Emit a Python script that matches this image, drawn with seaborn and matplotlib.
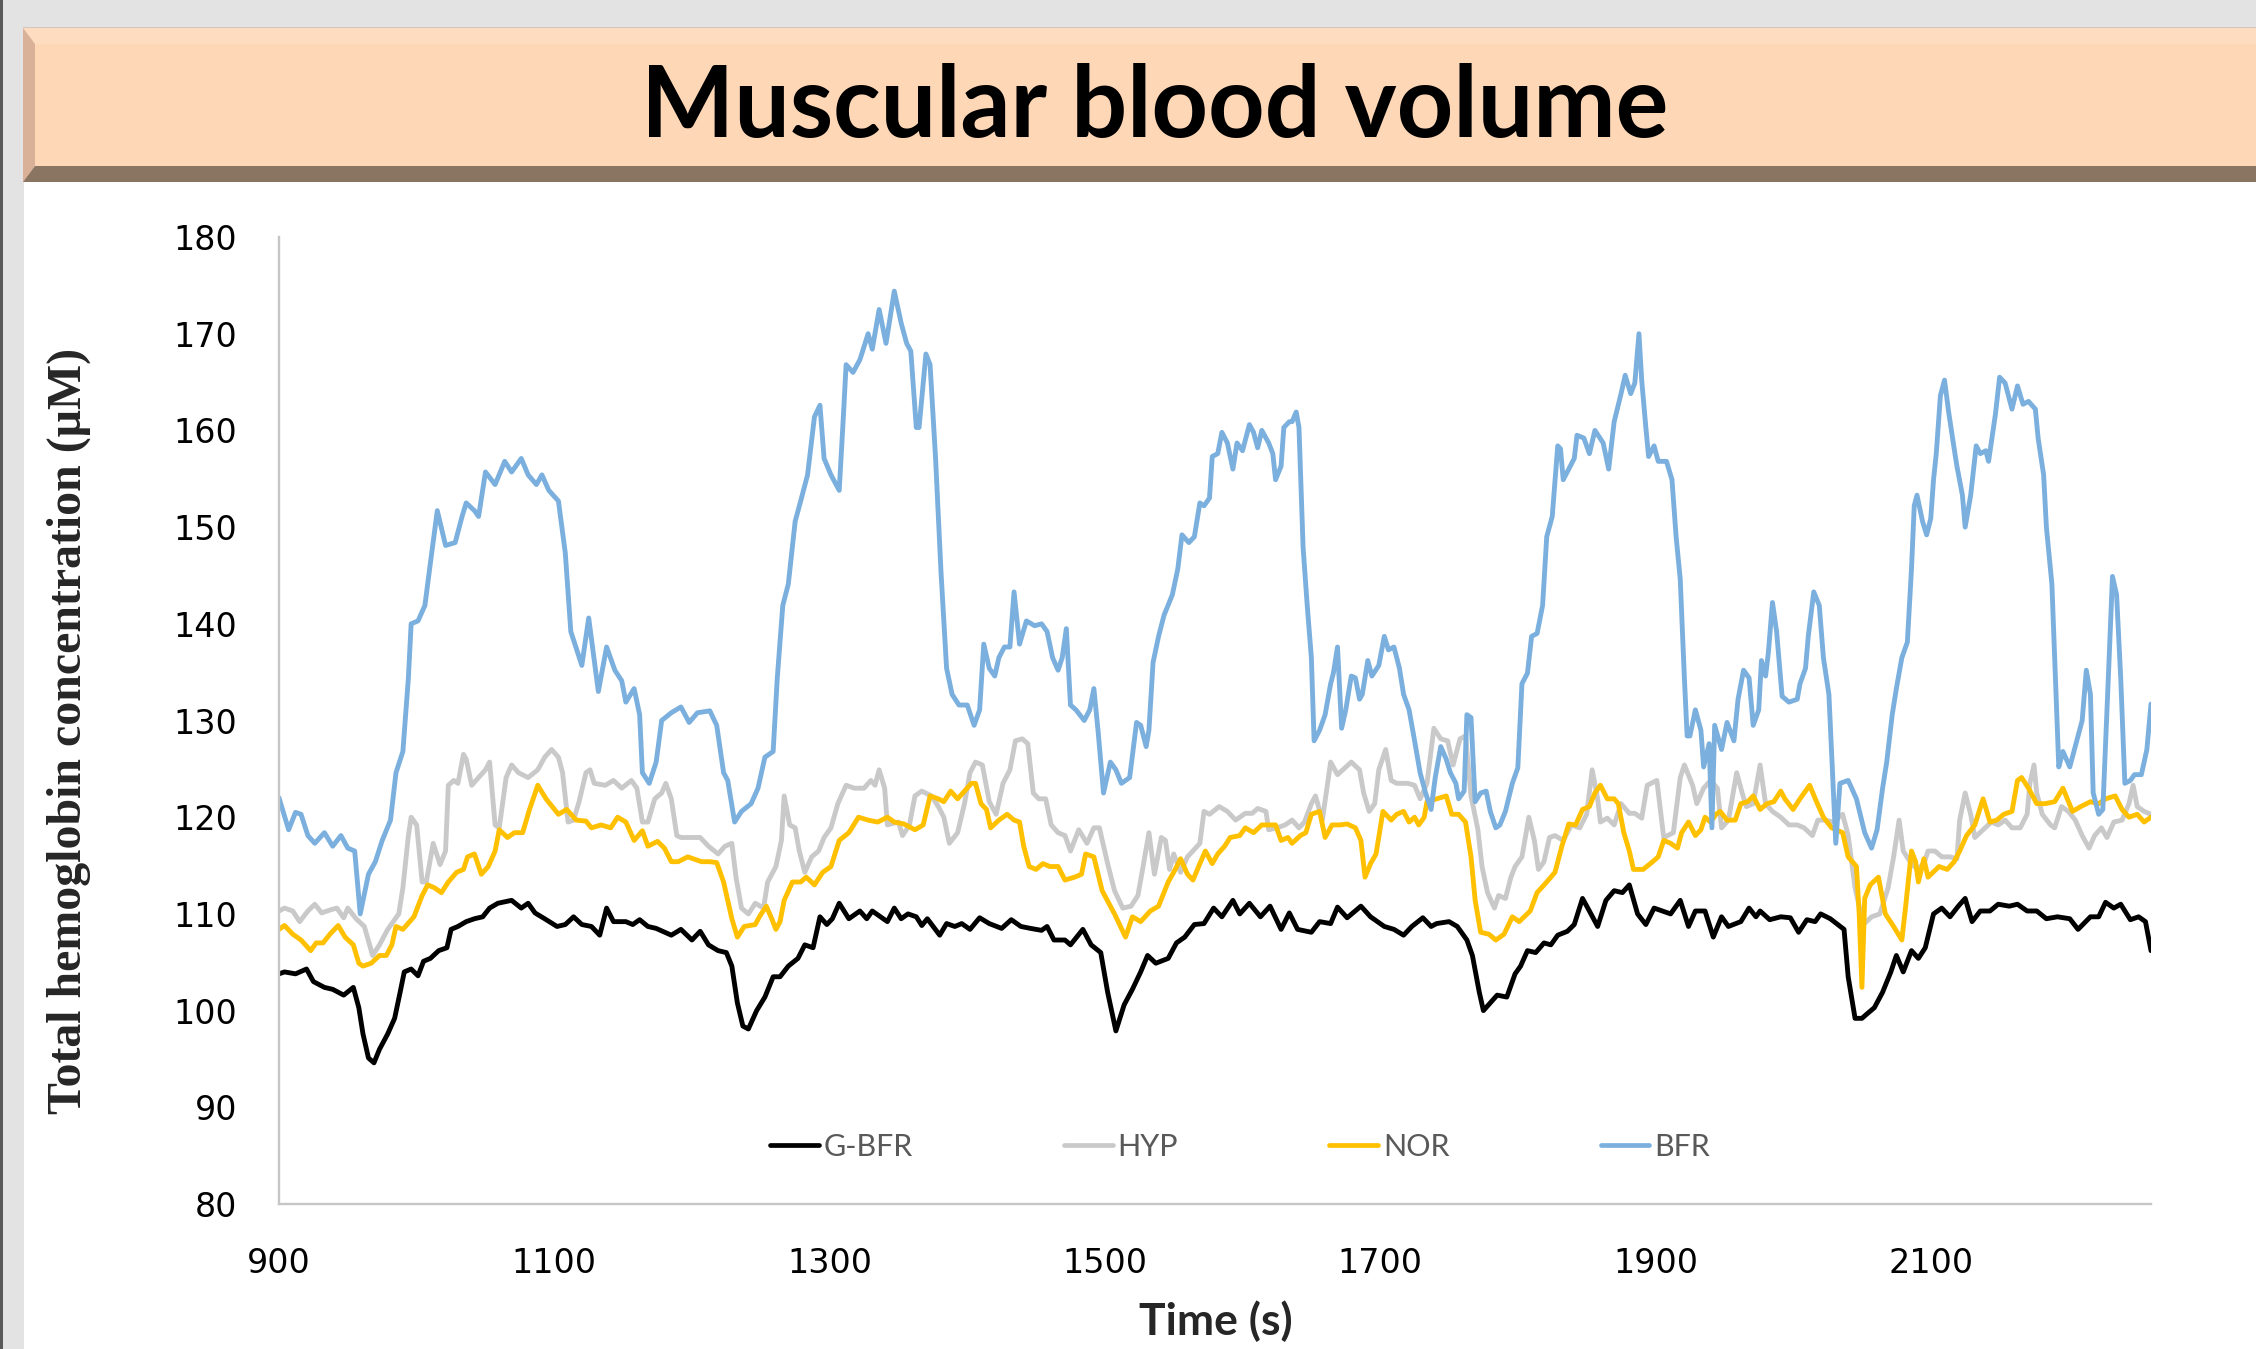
import pandas as pd
import seaborn as sns
import matplotlib.pyplot as plt
from matplotlib.patches import Polygon
from matplotlib.lines import Line2D

W, H = 2256, 1349

series_names = ['G-BFR', 'HYP', 'NOR', 'BFR']
palette = {'G-BFR': '#000000', 'HYP': '#c9c9c9', 'NOR': '#ffc000', 'BFR': '#7aafde'}

gbfr_t = [900, 904, 912, 920, 925, 933, 939, 947, 954, 958, 961, 965, 969, 973, 979, 984, 988, 991, 996, 1001,
          1005, 1010, 1016, 1022, 1025, 1030, 1036, 1042, 1048, 1053, 1059, 1069, 1076, 1081, 1086, 1093, 1102, 1108,
          1114, 1120, 1127, 1133, 1138, 1143, 1152, 1157, 1162, 1168, 1174, 1185, 1192, 1200, 1206, 1212, 1219, 1225,
          1229, 1233, 1237, 1241, 1247, 1253, 1259, 1264, 1270, 1277, 1282, 1288, 1293, 1298, 1302, 1307, 1314, 1322,
          1327, 1331, 1342, 1347, 1352, 1357, 1363, 1367, 1371, 1380, 1385, 1391, 1396, 1402, 1409, 1416, 1425, 1432,
          1439, 1446, 1454, 1458, 1463, 1471, 1475, 1484, 1490, 1497, 1502, 1508, 1514, 1520, 1526, 1531, 1537, 1546,
          1552, 1558, 1565, 1572, 1579, 1585, 1593, 1598, 1605, 1613, 1620, 1628, 1634, 1640, 1650, 1656, 1664, 1669,
          1676, 1686, 1693, 1703, 1710, 1717, 1723, 1731, 1737, 1741, 1750, 1756, 1763, 1767, 1772, 1775, 1785, 1792,
          1798, 1802, 1807, 1813, 1819, 1824, 1829, 1836, 1841, 1847, 1852, 1858, 1864, 1870, 1876, 1881, 1887, 1893,
          1899, 1905, 1911, 1918, 1924, 1929, 1936, 1942, 1948, 1953, 1962, 1968, 1973, 1976, 1983, 1991, 1998, 2004,
          2010, 2016, 2020, 2027, 2037, 2040, 2045, 2050, 2054, 2059, 2065, 2071, 2075, 2080, 2086, 2091, 2096, 2102,
          2108, 2114, 2120, 2125, 2130, 2136, 2143, 2149, 2157, 2163, 2170, 2177, 2184, 2192, 2201, 2207, 2216, 2222,
          2227, 2233, 2238, 2245, 2251, 2256, 2260]
gbfr_v = [103.8, 104.0, 103.8, 104.3, 103.0, 102.4, 102.2, 101.6, 102.4, 100.3, 97.6, 95.1, 94.6, 96.0, 97.6, 99.2,
          101.9, 104.0, 104.3, 103.6, 105.1, 105.4, 106.2, 106.5, 108.4, 108.7, 109.2, 109.5, 109.7, 110.6, 111.1,
          111.4, 110.6, 111.1, 110.1, 109.5, 108.7, 108.9, 109.7, 108.9, 108.7, 107.8, 110.6, 109.2, 109.2, 108.9,
          109.4, 108.7, 108.5, 107.8, 108.4, 107.3, 108.2, 106.8, 106.2, 106.0, 104.6, 100.8, 98.4, 98.1, 100.0, 101.4,
          103.5, 103.5, 104.6, 105.4, 106.8, 106.5, 109.7, 108.9, 109.5, 111.1, 109.5, 110.3, 109.5, 110.3, 109.2,
          110.6, 109.5, 110.0, 109.7, 108.8, 109.5, 107.8, 109.0, 108.7, 109.0, 108.4, 109.6, 109.0, 108.5, 109.4,
          108.7, 108.5, 108.3, 108.7, 107.3, 107.3, 106.8, 108.4, 106.8, 106.0, 101.9, 97.9, 100.6, 102.2, 104.0,
          105.7, 104.9, 105.4, 107.0, 107.6, 108.9, 109.0, 110.6, 109.7, 111.4, 110.0, 111.1, 109.7, 110.8, 108.4,
          110.1, 108.4, 108.1, 109.2, 109.0, 110.7, 109.6, 110.8, 109.7, 108.7, 108.4, 107.8, 108.7, 109.6, 108.7,
          109.0, 109.2, 108.7, 107.3, 105.7, 101.9, 100.0, 101.6, 101.4, 103.8, 104.6, 106.2, 106.0, 107.0, 106.8,
          107.8, 108.2, 108.9, 111.6, 110.3, 108.7, 111.4, 112.4, 112.2, 113.0, 110.0, 108.9, 110.6, 110.3, 110.0,
          111.4, 108.7, 110.3, 110.3, 107.6, 109.7, 108.7, 109.2, 110.6, 109.7, 110.3, 109.4, 109.7, 109.6, 108.1,
          109.4, 109.2, 110.0, 109.5, 108.4, 103.5, 99.2, 99.2, 99.7, 100.3, 101.9, 104.0, 105.7, 104.0, 106.2, 105.4,
          106.5, 110.0, 110.6, 109.7, 110.8, 111.6, 109.2, 110.3, 110.3, 111.0, 110.8, 111.0, 110.3, 110.3, 109.5,
          109.7, 109.5, 108.4, 109.7, 109.7, 111.2, 110.6, 111.0, 109.4, 109.7, 109.2, 106.2]

hyp_t = [900, 904, 910, 915, 921, 926, 931, 937, 942, 947, 950, 956, 962, 968, 973, 979, 987, 990, 994, 996, 1000,
         1004, 1007, 1012, 1017, 1021, 1023, 1027, 1030, 1034, 1036, 1040, 1045, 1050, 1053, 1057, 1060, 1065, 1069,
         1074, 1081, 1088, 1093, 1098, 1103, 1106, 1110, 1114, 1118, 1123, 1126, 1129, 1137, 1143, 1149, 1156, 1160,
         1164, 1168, 1173, 1178, 1181, 1185, 1189, 1192, 1200, 1206, 1212, 1219, 1224, 1229, 1232, 1236, 1241, 1246,
         1252, 1255, 1261, 1265, 1267, 1271, 1275, 1278, 1282, 1287, 1292, 1296, 1301, 1306, 1312, 1318, 1325, 1330,
         1333, 1336, 1340, 1342, 1350, 1353, 1358, 1362, 1367, 1374, 1379, 1383, 1387, 1393, 1398, 1402, 1406, 1411,
         1416, 1421, 1426, 1431, 1435, 1440, 1444, 1448, 1452, 1457, 1461, 1466, 1471, 1475, 1481, 1487, 1492, 1496,
         1502, 1507, 1513, 1519, 1524, 1527, 1532, 1536, 1541, 1544, 1547, 1550, 1555, 1560, 1569, 1572, 1576, 1583,
         1589, 1595, 1602, 1607, 1611, 1617, 1619, 1625, 1631, 1636, 1641, 1645, 1650, 1653, 1658, 1664, 1669, 1679,
         1685, 1688, 1692, 1696, 1699, 1704, 1708, 1712, 1720, 1725, 1729, 1734, 1739, 1744, 1749, 1753, 1758, 1762,
         1766, 1771, 1774, 1778, 1783, 1786, 1791, 1795, 1798, 1803, 1808, 1812, 1815, 1819, 1823, 1827, 1833, 1839,
         1845, 1850, 1854, 1858, 1860, 1865, 1870, 1875, 1881, 1885, 1890, 1894, 1901, 1906, 1913, 1918, 1921, 1927,
         1930, 1935, 1940, 1945, 1948, 1953, 1959, 1963, 1966, 1971, 1976, 1980, 1985, 1991, 1997, 2003, 2008, 2014,
         2018, 2023, 2029, 2036, 2040, 2045, 2051, 2057, 2063, 2069, 2073, 2077, 2080, 2085, 2090, 2095, 2098, 2103,
         2108, 2114, 2119, 2121, 2125, 2129, 2132, 2138, 2144, 2149, 2154, 2159, 2165, 2170, 2172, 2175, 2177, 2181,
         2187, 2190, 2195, 2200, 2205, 2210, 2215, 2219, 2224, 2228, 2233, 2239, 2244, 2247, 2250, 2255, 2260]
hyp_v = [110.3, 110.6, 110.3, 109.2, 110.3, 111.0, 110.1, 110.4, 110.6, 109.6, 110.6, 109.5, 108.7, 105.7, 106.8,
         108.4, 110.0, 112.7, 118.1, 120.0, 119.2, 113.3, 113.3, 117.3, 115.1, 116.5, 123.3, 123.8, 123.5, 126.5,
         126.0, 123.3, 124.1, 124.9, 125.7, 119.2, 118.9, 124.1, 125.4, 124.6, 124.1, 124.9, 126.2, 127.0, 126.2,
         124.6, 119.5, 119.7, 121.6, 124.6, 124.9, 123.5, 123.3, 123.8, 123.0, 123.8, 123.0, 119.5, 119.5, 121.9,
         122.5, 123.5, 121.9, 118.1, 117.9, 117.9, 117.9, 117.0, 116.2, 117.0, 117.3, 113.8, 110.6, 110.0, 111.1,
         110.6, 113.3, 114.9, 117.6, 122.2, 119.2, 118.9, 116.5, 114.3, 115.9, 116.5, 117.9, 118.9, 121.4, 123.3,
         123.0, 123.0, 123.8, 123.3, 124.9, 123.0, 119.2, 119.5, 118.1, 119.2, 122.2, 122.7, 122.2, 121.1, 120.0,
         117.3, 118.4, 121.4, 124.6, 125.7, 125.4, 121.6, 120.3, 123.5, 124.9, 127.9, 128.1, 127.6, 122.5, 121.9,
         121.9, 119.2, 118.4, 118.1, 116.5, 118.7, 117.3, 118.9, 118.9, 115.2, 112.4, 110.6, 110.8, 111.9, 114.3,
         118.4, 114.1, 117.9, 117.6, 114.6, 116.2, 114.3, 115.9, 117.3, 120.6, 120.3, 121.1, 120.6, 119.7, 120.4,
         120.4, 120.9, 120.6, 118.7, 118.9, 119.2, 119.7, 118.9, 119.5, 121.4, 122.2, 119.7, 125.7, 124.4, 125.7,
         124.9, 122.5, 120.6, 121.4, 124.9, 127.0, 123.8, 123.5, 123.5, 123.3, 121.9, 123.5, 129.2, 128.1, 127.9,
         125.4, 128.1, 128.4, 122.2, 118.7, 114.9, 112.2, 110.6, 111.9, 111.6, 113.8, 114.9, 115.9, 120.0, 117.6,
         114.6, 115.4, 117.9, 118.1, 117.6, 119.2, 118.9, 120.3, 124.9, 121.9, 119.5, 119.9, 119.2, 121.4, 120.4,
         120.4, 119.9, 123.3, 123.8, 117.9, 118.4, 124.1, 125.4, 123.3, 121.4, 123.0, 123.8, 123.0, 118.9, 119.7,
         124.6, 122.5, 121.1, 121.4, 125.4, 121.4, 120.6, 120.0, 119.2, 119.2, 118.9, 118.1, 119.7, 119.7, 119.5,
         120.3, 118.1, 112.7, 108.9, 109.7, 110.0, 112.7, 115.9, 119.7, 116.5, 115.4, 114.6, 115.2, 116.5, 116.5,
         115.9, 115.9, 115.7, 119.7, 122.5, 120.3, 117.9, 118.7, 119.5, 119.2, 119.7, 118.9, 118.9, 120.3, 123.5,
         125.4, 122.5, 120.3, 119.2, 118.9, 121.1, 120.6, 119.7, 118.1, 116.8, 118.1, 118.9, 117.9, 119.5, 119.7,
         121.4, 123.3, 121.1, 120.6, 120.3]

nor_t = [900, 904, 910, 916, 923, 927, 932, 937, 943, 948, 954, 958, 961, 967, 973, 978, 982, 985, 990, 998, 1004,
         1008, 1013, 1018, 1023, 1029, 1034, 1037, 1042, 1047, 1052, 1057, 1060, 1066, 1071, 1077, 1082, 1088, 1094,
         1103, 1109, 1116, 1123, 1127, 1134, 1141, 1146, 1152, 1158, 1164, 1168, 1175, 1180, 1185, 1190, 1197, 1207,
         1213, 1218, 1223, 1229, 1233, 1238, 1246, 1249, 1254, 1258, 1261, 1264, 1267, 1273, 1279, 1283, 1289, 1295,
         1301, 1307, 1314, 1321, 1328, 1335, 1342, 1347, 1354, 1362, 1368, 1373, 1379, 1383, 1388, 1393, 1398, 1403,
         1406, 1410, 1414, 1417, 1423, 1429, 1434, 1438, 1441, 1445, 1450, 1455, 1460, 1466, 1471, 1478, 1483, 1486,
         1492, 1498, 1507, 1515, 1520, 1526, 1533, 1539, 1546, 1550, 1555, 1560, 1564, 1569, 1573, 1578, 1582, 1587,
         1591, 1598, 1602, 1608, 1614, 1624, 1628, 1633, 1636, 1642, 1646, 1650, 1656, 1660, 1665, 1671, 1676, 1682,
         1686, 1689, 1693, 1697, 1702, 1708, 1712, 1717, 1721, 1725, 1728, 1732, 1734, 1741, 1748, 1752, 1757, 1762,
         1766, 1769, 1773, 1779, 1784, 1790, 1796, 1801, 1809, 1814, 1821, 1827, 1832, 1837, 1842, 1847, 1852, 1856,
         1860, 1865, 1870, 1873, 1877, 1881, 1884, 1891, 1898, 1902, 1906, 1911, 1916, 1919, 1924, 1929, 1933, 1936,
         1940, 1944, 1947, 1952, 1958, 1962, 1967, 1971, 1976, 1981, 1986, 1991, 1994, 2000, 2005, 2012, 2017, 2022,
         2028, 2036, 2040, 2046, 2048, 2050, 2052, 2056, 2062, 2067, 2073, 2079, 2082, 2086, 2089, 2091, 2095, 2098,
         2106, 2112, 2117, 2121, 2126, 2132, 2138, 2143, 2148, 2153, 2159, 2163, 2166, 2171, 2177, 2183, 2190, 2196,
         2203, 2209, 2216, 2222, 2227, 2234, 2239, 2244, 2250, 2255, 2260]
nor_v = [108.4, 108.8, 107.9, 107.3, 106.2, 107.0, 107.0, 107.9, 108.8, 107.6, 106.8, 104.9, 104.6, 104.9, 105.7,
         105.7, 106.8, 108.7, 108.4, 109.7, 111.9, 113.0, 112.7, 112.2, 113.3, 114.3, 114.6, 115.9, 116.2, 114.1,
         114.9, 116.5, 118.7, 117.9, 118.4, 118.4, 120.8, 123.3, 121.9, 120.3, 120.8, 119.7, 119.6, 118.9, 119.2,
         118.9, 120.0, 119.5, 117.6, 118.6, 117.0, 117.5, 116.8, 115.4, 115.4, 115.9, 115.4, 115.4, 115.3, 113.3,
         109.5, 107.6, 108.7, 108.9, 109.7, 110.8, 109.5, 108.4, 109.2, 111.4, 113.3, 113.3, 113.8, 113.0, 114.3,
         114.9, 117.6, 118.4, 120.0, 119.7, 119.5, 120.0, 119.5, 119.3, 118.7, 119.2, 122.2, 121.9, 121.6, 122.7,
         121.9, 122.7, 123.5, 123.5, 121.4, 120.8, 118.9, 119.7, 120.3, 119.7, 119.5, 117.0, 114.9, 114.6, 115.2,
         114.9, 114.9, 113.5, 113.8, 114.1, 116.2, 115.9, 112.4, 110.0, 107.6, 109.7, 109.2, 110.3, 110.8, 113.3,
         114.3, 115.7, 114.1, 113.5, 115.2, 116.5, 115.2, 116.2, 117.0, 117.9, 118.1, 118.9, 118.4, 119.2, 119.2,
         117.6, 117.9, 117.3, 118.1, 118.4, 120.3, 120.6, 117.9, 119.2, 119.2, 119.3, 118.9, 117.6, 113.8, 115.2,
         116.2, 120.6, 119.7, 120.3, 120.6, 119.5, 120.0, 119.2, 120.0, 121.6, 121.9, 122.2, 120.3, 120.3, 119.5,
         115.9, 111.4, 108.1, 107.9, 107.3, 107.9, 109.7, 109.2, 110.3, 112.2, 113.3, 114.3, 117.0, 119.3, 119.2,
         120.8, 121.1, 122.5, 123.3, 121.9, 121.9, 121.4, 118.4, 116.5, 114.6, 114.6, 115.4, 115.9, 117.6, 117.3,
         116.8, 118.4, 119.5, 118.1, 118.7, 120.0, 119.5, 120.3, 120.6, 119.7, 119.7, 121.4, 121.6, 122.2, 120.8,
         121.4, 121.6, 122.7, 121.9, 120.8, 121.9, 123.3, 121.6, 120.0, 118.9, 118.4, 115.9, 114.9, 110.0, 102.4,
         111.6, 113.0, 113.8, 110.0, 108.7, 107.3, 111.1, 116.5, 115.4, 113.3, 115.7, 113.8, 114.9, 114.6, 115.4,
         116.5, 118.1, 119.2, 121.9, 119.5, 119.7, 120.3, 120.6, 123.8, 124.1, 123.0, 121.4, 121.4, 121.6, 123.0,
         120.6, 121.1, 121.6, 121.4, 121.9, 122.2, 120.8, 120.0, 120.3, 119.5, 120.0]

bfr_t = [900, 907, 912, 916, 921, 926, 933, 939, 945, 950, 955, 959, 965, 970, 975, 981, 985, 990, 994, 996, 1001,
         1006, 1010, 1015, 1021, 1028, 1033, 1036, 1042, 1045, 1050, 1057, 1064, 1069, 1076, 1081, 1087, 1091, 1096,
         1103, 1108, 1112, 1120, 1125, 1132, 1138, 1144, 1149, 1152, 1158, 1162, 1164, 1169, 1174, 1178, 1185, 1192,
         1198, 1204, 1213, 1218, 1223, 1226, 1231, 1236, 1243, 1248, 1253, 1259, 1262, 1266, 1270, 1275, 1279, 1284,
         1289, 1293, 1296, 1301, 1307, 1310, 1312, 1317, 1322, 1328, 1331, 1336, 1341, 1347, 1352, 1356, 1359, 1363,
         1365, 1370, 1373, 1377, 1381, 1385, 1389, 1394, 1400, 1405, 1409, 1412, 1416, 1420, 1423, 1427, 1431, 1434,
         1438, 1443, 1449, 1454, 1458, 1462, 1466, 1469, 1472, 1475, 1479, 1485, 1489, 1492, 1495, 1499, 1504, 1508,
         1512, 1518, 1523, 1526, 1530, 1532, 1535, 1539, 1543, 1549, 1553, 1556, 1561, 1565, 1569, 1572, 1576, 1578,
         1582, 1585, 1589, 1593, 1596, 1600, 1605, 1608, 1611, 1614, 1619, 1622, 1624, 1628, 1630, 1634, 1636, 1639,
         1641, 1644, 1647, 1650, 1652, 1656, 1660, 1664, 1666, 1669, 1672, 1675, 1679, 1682, 1685, 1687, 1691, 1694,
         1699, 1703, 1706, 1710, 1714, 1717, 1721, 1725, 1729, 1733, 1737, 1740, 1744, 1748, 1751, 1755, 1757, 1761,
         1763, 1766, 1769, 1773, 1777, 1780, 1784, 1787, 1791, 1796, 1800, 1803, 1807, 1810, 1814, 1818, 1821, 1825,
         1829, 1831, 1833, 1837, 1841, 1843, 1848, 1852, 1856, 1862, 1866, 1870, 1875, 1878, 1882, 1885, 1888, 1890,
         1893, 1895, 1899, 1902, 1908, 1912, 1915, 1918, 1921, 1923, 1925, 1929, 1933, 1935, 1939, 1941, 1943, 1948,
         1952, 1957, 1960, 1964, 1968, 1971, 1975, 1977, 1980, 1982, 1985, 1988, 1992, 1997, 2003, 2005, 2009, 2011,
         2015, 2019, 2022, 2026, 2031, 2034, 2040, 2046, 2052, 2057, 2061, 2065, 2068, 2072, 2075, 2079, 2083, 2086,
         2088, 2090, 2094, 2097, 2100, 2102, 2104, 2107, 2110, 2113, 2117, 2119, 2123, 2125, 2129, 2133, 2136, 2140,
         2142, 2147, 2150, 2154, 2159, 2163, 2167, 2171, 2176, 2178, 2182, 2184, 2188, 2191, 2193, 2196, 2201, 2207,
         2210, 2213, 2216, 2218, 2222, 2225, 2229, 2232, 2235, 2238, 2241, 2245, 2248, 2253, 2257, 2260]
bfr_v = [122.0, 118.7, 120.5, 120.3, 118.1, 117.3, 118.4, 117.0, 118.1, 116.8, 116.5, 110.0, 114.1, 115.4, 117.6,
         119.7, 124.6, 126.8, 134.4, 140.0, 140.3, 141.9, 146.3, 151.7, 148.1, 148.4, 151.1, 152.5, 151.7, 151.1,
         155.7, 154.4, 156.8, 155.7, 157.1, 155.4, 154.4, 155.4, 153.8, 152.7, 147.3, 139.2, 135.7, 140.6, 133.0,
         137.6, 135.2, 134.1, 131.9, 133.3, 130.6, 124.6, 123.5, 125.7, 130.0, 130.8, 131.4, 129.8, 130.8, 131.0,
         129.5, 124.6, 123.8, 119.5, 120.6, 121.4, 123.0, 126.2, 126.8, 134.4, 141.9, 144.1, 150.6, 152.7, 155.4,
         161.4, 162.6, 157.1, 155.4, 153.8, 161.4, 166.8, 166.0, 167.3, 170.0, 168.4, 172.5, 169.0, 174.4, 171.1,
         169.0, 168.2, 160.3, 160.3, 167.9, 166.8, 157.1, 145.2, 135.4, 132.7, 131.6, 131.6, 129.5, 131.1, 137.9,
         135.4, 134.6, 136.5, 137.6, 137.6, 143.3, 137.9, 140.3, 139.8, 140.0, 139.2, 136.5, 135.2, 136.5, 139.5,
         131.6, 131.1, 130.0, 131.1, 133.3, 129.0, 122.5, 125.7, 124.9, 123.5, 124.1, 129.8, 129.5, 127.3, 129.0,
         136.0, 138.7, 140.9, 143.0, 145.7, 149.2, 148.4, 149.0, 152.5, 152.2, 153.0, 157.3, 157.6, 159.8, 158.7,
         156.0, 158.7, 157.9, 160.6, 159.8, 158.2, 160.0, 158.7, 157.6, 154.9, 156.3, 160.3, 160.9, 160.9, 161.9,
         160.3, 147.9, 141.9, 136.5, 127.9, 129.0, 130.6, 133.8, 134.9, 137.6, 129.2, 131.1, 134.6, 134.4, 132.2,
         132.7, 136.2, 134.6, 135.7, 138.7, 137.3, 137.6, 135.4, 132.7, 131.1, 127.9, 124.6, 122.5, 120.8, 124.1,
         127.3, 126.0, 124.6, 123.5, 121.9, 122.7, 130.6, 130.3, 121.6, 122.5, 122.7, 120.6, 118.9, 119.2, 120.6,
         123.5, 125.1, 133.8, 134.9, 138.7, 139.0, 141.9, 149.0, 151.1, 158.4, 158.1, 154.9, 156.0, 157.1, 159.5,
         159.2, 157.6, 160.0, 158.7, 156.0, 160.9, 163.8, 165.7, 163.8, 164.9, 170.0, 165.2, 160.3, 157.3, 158.4,
         156.8, 156.8, 154.9, 149.0, 144.6, 134.4, 128.4, 128.4, 131.1, 129.0, 125.2, 127.6, 118.9, 129.5, 127.0,
         129.8, 127.9, 132.2, 135.2, 134.4, 129.5, 131.1, 136.2, 134.6, 137.0, 142.2, 139.2, 132.5, 131.9, 132.2,
         133.8, 135.4, 138.7, 143.3, 141.9, 136.5, 132.7, 117.3, 123.5, 123.8, 121.9, 118.4, 116.8, 118.7, 123.0,
         125.7, 130.6, 133.3, 136.5, 138.1, 145.7, 152.2, 153.3, 150.6, 149.2, 150.9, 154.9, 157.6, 163.6, 165.2,
         161.9, 158.1, 156.3, 153.3, 150.0, 153.3, 158.4, 157.6, 157.9, 156.8, 161.7, 165.5, 164.9, 162.2, 164.6,
         162.7, 163.0, 162.2, 159.2, 155.4, 150.0, 144.1, 132.7, 125.2, 126.8, 125.2, 128.4, 130.0, 135.2, 132.7,
         122.5, 120.3, 120.8, 134.4, 144.9, 143.0, 134.4, 123.5, 123.8, 124.4, 124.4, 127.0, 131.7]

y_ticks = list(range(80, 181, 10))
x_ticks = list(range(900, 2101, 200))

frames = []
for name, t, v in [('G-BFR', gbfr_t, gbfr_v), ('HYP', hyp_t, hyp_v),
                   ('NOR', nor_t, nor_v), ('BFR', bfr_t, bfr_v)]:
    frames.append(pd.DataFrame({'time': t, 'value': v, 'series': name}))
df = pd.concat(frames, ignore_index=True)

sns.set_style('white')
plt.rcParams['font.family'] = ['DejaVu Sans']

fig = plt.figure(figsize=(W / 100, H / 100), dpi=100, facecolor='#e3e3e3')


def fpt(x, y):
    return (x / W, 1 - y / H)


def poly(pts, color):
    fig.add_artist(Polygon([fpt(x, y) for x, y in pts], closed=True, transform=fig.transFigure,
                           facecolor=color, edgecolor='none', zorder=-5))


# page background, banner with bevels
poly([(24, 182), (W, 182), (W, H), (24, H)], 'white')
poly([(0, 0), (3, 0), (3, H), (0, H)], '#5a5a5a')
poly([(23, 27), (W, 27), (W, 29), (23, 29)], '#cfc6c0')
poly([(23, 28), (W, 28), (W, 182), (23, 182)], '#fed7b7')
poly([(23, 28), (W, 28), (W, 44), (35, 44)], '#fedcbf')
poly([(23, 28), (35, 44), (35, 166), (23, 182)], '#d9b198')
poly([(23, 182), (W, 182), (W, 166), (35, 166)], '#8a7563')

fig.text(1155 / W, 1 - 137 / H, 'Muscular blood volume', ha='center', va='baseline',
         fontsize=71, fontweight='bold', family='Lato', color='black')

ax = fig.add_axes([279 / W, 1 - 1204 / H, (2151 - 279) / W, (1204 - 237) / H])
ax.set_facecolor('none')

sns.lineplot(data=df, x='time', y='value', hue='series', hue_order=series_names,
             palette=palette, linewidth=3.5, estimator=None, legend=False, ax=ax)

ax.set_xlim(900, 2260)
ax.set_ylim(80, 180)
ax.set_yticks(y_ticks)
ax.set_xticks(x_ticks)
ax.set_xlabel('')
ax.set_ylabel('')
for s in ['top', 'right']:
    ax.spines[s].set_visible(False)
for s in ['left', 'bottom']:
    ax.spines[s].set_color('#c6c6c6')
    ax.spines[s].set_linewidth(1.7)
ax.tick_params(axis='y', length=10, width=1.3, color='#c6c6c6', pad=20, labelsize=24, labelcolor='black')
ax.tick_params(axis='x', length=0, pad=31, labelsize=24, labelcolor='black')

handles = [Line2D([], [], color=palette[n], lw=3.4) for n in series_names]
ax.legend(handles, series_names, loc='center', bbox_to_anchor=fpt(1240, 1147),
          bbox_transform=fig.transFigure, ncol=4, frameon=False,
          prop={'family': 'Lato', 'size': 22}, labelcolor='#595959',
          handlelength=1.6, handletextpad=0.15, columnspacing=4.95)

fig.text(1216 / W, 1 - 1321 / H, 'Time (s)', ha='center', va='center',
         fontsize=32, fontweight='bold', family='Lato')
fig.text(69 / W, 1 - 731 / H, 'Total hemoglobin concentration (\u03bcM)', ha='center', va='center',
         rotation=90, fontsize=34.5, fontweight='bold', family='Liberation Serif')

fig.savefig('out.png', dpi=100, facecolor=fig.get_facecolor())
